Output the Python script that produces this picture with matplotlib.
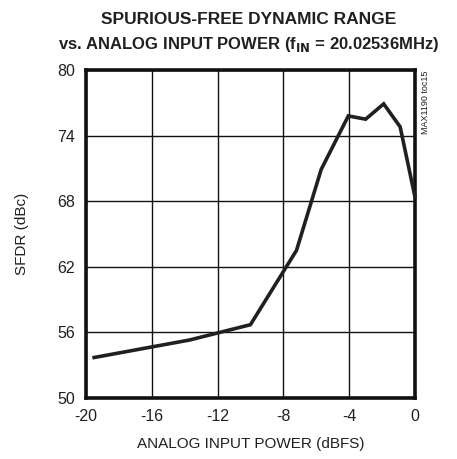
import matplotlib
matplotlib.use("Agg")
import matplotlib.pyplot as plt
from matplotlib import font_manager

names = {f.name for f in font_manager.fontManager.ttflist}
narrow = 'Liberation Sans Narrow' if 'Liberation Sans Narrow' in names else 'Liberation Sans'
plt.rcParams['font.family'] = [narrow, 'DejaVu Sans']
plt.rcParams['axes.unicode_minus'] = False

input_power = [-19.5, -13.7, -10.0, -7.2, -5.7, -4.05, -3.0, -1.9, -0.9, 0.0]
sfdr = [53.7, 55.3, 56.7, 63.5, 70.9, 75.8, 75.5, 76.9, 74.8, 68.4]
xticks = [-20, -16, -12, -8, -4, 0]
yticks = [50, 56, 62, 68, 74, 80]

fig = plt.figure(figsize=(4.57, 4.59), dpi=100)
ax = fig.add_axes([0.188, 0.133, 0.720, 0.7145])
ax.plot(input_power, sfdr, color='#231f20', lw=2.6, solid_joinstyle='miter', zorder=3, clip_on=False)
ax.set_xlim(-20, 0)
ax.set_ylim(50, 80)
ax.set_xticks(xticks)
ax.set_yticks(yticks)
ax.grid(True, color='#111111', lw=1.0)
for s in ax.spines.values():
    s.set_linewidth(2.6)
    s.set_color('#111111')
ax.tick_params(length=0, labelsize=11.5, pad=8, colors='#231f20')
ax.set_xlabel('ANALOG INPUT POWER (dBFS)', fontsize=11, labelpad=9, color='#231f20')
ax.set_ylabel('SFDR (dBc)', fontsize=11, labelpad=20, color='#231f20')
fig.text(0.545, 0.957, 'SPURIOUS-FREE DYNAMIC RANGE', ha='center', va='center',
         fontsize=12.5, fontweight='bold', color='#231f20')
fig.text(0.545, 0.903, r'vs. ANALOG INPUT POWER (f$_{\mathbf{IN}}$ = 20.02536MHz)', ha='center', va='center',
         fontsize=12, fontweight='bold', color='#231f20')
fig.text(0.930, 0.847, 'MAX1190 toc15', rotation=90, ha='center', va='top', fontsize=6.5, color='#231f20')
fig.savefig('out.png', dpi=100)
